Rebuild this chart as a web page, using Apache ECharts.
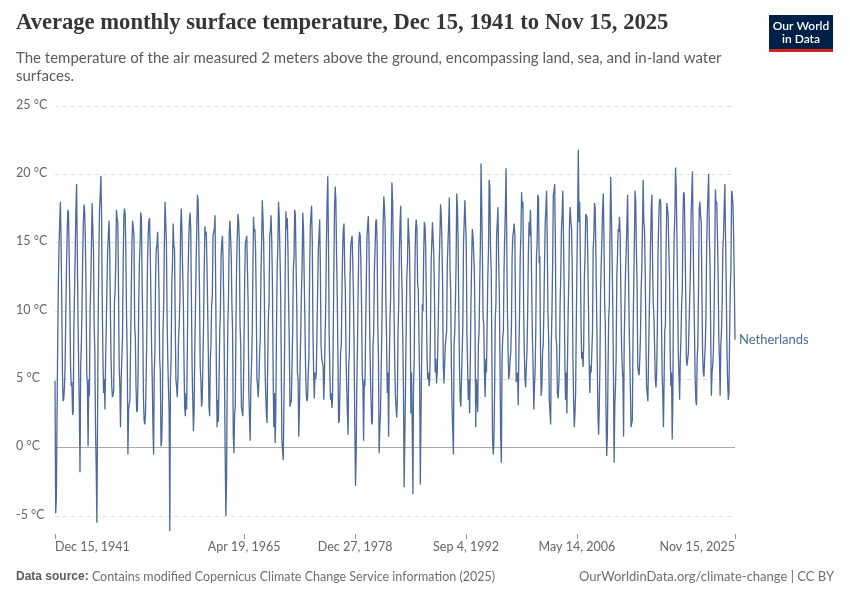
<!DOCTYPE html>
<html>
<head>
<meta charset="utf-8">
<script src="https://cdn.jsdelivr.net/npm/echarts@6/dist/echarts.min.js"></script>
<style>html,body{margin:0;padding:0;background:#fff}#chart{width:850px;height:600px}</style>
</head>
<body>
<div id="chart"></div>
<script>
// ---- Data (°C, monthly, starting Dec 1941) ----
const seriesName = 'Netherlands';
const firstYear = 1941;
const firstMonthIndex = 11; // December

const temps1940s = [4.9,
  -4.8,-3.6,2.0,7.5,12.0,14.8,16.5,18.0,15.0,10.8,5.5,3.4,
  3.6,4.5,6.0,9.8,13.0,15.5,17.4,17.2,14.0,10.5,6.0,4.5,
  4.8,2.4,2.6,8.8,11.5,14.5,17.5,19.3,14.3,9.8,6.0,3.0,
  -1.8,6.0,7.5,10.2,13.8,16.5,17.8,17.2,15.0,11.5,5.5,4.5,
  0.1,5.0,3.8,10.0,12.0,14.8,17.9,16.0,14.5,9.0,7.0,1.5,
  -1.5,-5.5,1.5,9.5,14.0,17.5,18.5,19.9,17.0,10.5,6.5,4.0,
  5.0,2.8,6.5,9.0,12.0,14.5,15.5,16.6,14.5,10.0,6.5,4.5,
  3.7,3.9,4.2,10.5,11.5,13.5,17.4,16.8,16.5,12.0,6.0,4.5];
const temps1950s = [
  1.5,5.0,6.5,8.0,13.5,17.0,17.5,17.0,14.0,9.5,6.5,-0.5,
  2.8,3.2,3.5,7.5,11.5,15.0,16.6,16.5,15.5,9.0,8.0,4.5,
  2.6,2.8,5.0,10.5,13.5,15.0,17.2,16.8,12.0,9.0,3.5,2.0,
  1.7,2.5,5.0,8.5,13.5,15.5,16.6,16.8,14.5,11.0,7.5,5.0,
  1.5,-0.5,5.5,7.0,12.5,14.5,14.8,15.8,14.0,11.5,6.5,5.5,
  0.1,0.5,2.5,8.5,10.5,15.0,18.0,18.0,15.0,9.5,6.5,4.5,
  2.5,-6.1,5.0,6.5,12.0,13.5,16.4,14.8,14.5,9.5,5.0,4.5,
  3.7,5.0,8.0,9.0,11.0,16.0,17.5,15.8,13.0,11.0,6.5,3.0,
  2.3,4.0,2.8,7.0,12.5,15.0,16.5,17.2,16.0,11.0,6.0,3.5,
  1.2,2.8,7.0,10.0,13.5,16.0,18.5,18.0,15.0,11.5,6.0,5.0];
const temps1960s = [
  3.0,3.5,6.0,9.0,13.0,16.2,15.5,15.8,13.5,10.5,7.0,3.0,
  2.3,6.5,7.5,10.5,11.0,15.5,15.5,16.0,17.0,11.5,5.5,1.5,
  3.5,1.9,2.0,8.5,10.0,14.0,15.0,15.5,13.5,10.5,5.0,-0.3,
  -5.0,-2.5,4.5,9.0,11.0,15.5,16.6,15.5,14.0,10.5,8.5,1.0,
  -0.4,2.5,3.0,9.0,13.5,15.5,17.1,16.5,15.0,9.0,7.5,3.0,
  3.0,2.3,4.0,8.0,12.5,15.0,15.2,15.5,13.0,10.5,4.0,4.0,
  0.5,4.5,6.0,8.0,12.5,16.9,15.8,16.0,14.5,11.0,5.0,4.5,
  3.7,5.0,6.8,8.0,12.5,15.0,18.1,16.8,15.0,11.5,6.0,4.0,
  2.5,1.8,6.0,9.5,10.5,15.5,16.0,17.0,15.0,12.0,5.5,1.5,
  4.0,0.35,2.5,8.5,13.0,14.8,18.0,17.0,14.5,12.0,6.5,0.5];
const temps1970s = [
  0.5,-0.9,3.0,7.0,13.0,17.3,16.0,16.8,14.5,10.5,7.5,3.0,
  3.0,3.5,3.5,8.5,13.0,14.0,17.4,17.0,13.5,10.5,5.5,5.0,
  0.8,3.0,6.0,8.5,11.5,13.5,17.2,16.0,12.5,9.5,6.0,4.0,
  3.4,3.6,5.5,6.5,12.5,16.0,17.0,17.7,15.0,8.5,5.5,3.6,
  5.5,5.0,5.5,8.5,11.5,14.5,15.5,16.7,13.0,7.5,6.5,6.5,
  6.0,3.5,5.0,8.0,10.5,15.0,18.0,19.85,15.0,8.5,5.5,3.5,
  4.0,2.9,3.5,8.0,13.0,17.5,19.1,18.0,14.0,11.0,6.5,1.8,
  2.0,4.5,7.0,7.5,11.5,14.5,16.0,16.4,13.0,11.5,6.5,4.5,
  2.5,0.95,6.0,7.0,12.5,14.8,15.2,15.5,13.5,11.0,7.0,1.5,
  -2.8,-0.5,4.5,7.5,11.5,15.0,15.8,15.5,13.5,10.5,5.5,4.5];
const temps1980s = [
  0.5,5.0,4.5,8.5,12.0,15.5,15.5,16.95,15.0,9.0,5.5,3.5,
  1.7,1.9,7.5,8.5,13.0,14.5,16.5,16.7,15.0,9.0,6.5,-0.4,
  1.5,2.5,5.5,8.5,12.5,16.5,18.4,17.5,16.0,11.0,8.0,4.0,
  5.5,0.8,5.5,9.0,11.0,15.5,19.4,18.0,14.5,10.5,6.5,4.0,
  3.0,2.2,3.5,8.5,10.5,14.5,16.5,17.7,13.5,11.5,8.0,4.5,
  -2.9,0.5,4.0,8.5,12.5,13.5,16.8,15.5,14.5,10.5,2.5,5.5,
  1.5,-3.4,4.5,6.5,13.0,16.0,16.7,16.0,12.0,11.5,8.0,5.0,
  -2.7,2.5,2.5,10.5,10.0,14.0,16.5,16.2,14.5,10.5,6.5,5.0,
  5.5,4.5,5.0,8.5,13.5,15.0,16.5,16.5,14.0,11.0,5.5,6.5,
  4.7,5.5,7.5,7.5,13.5,15.5,17.8,17.0,15.0,12.0,6.0,4.7];
const temps1990s = [
  4.7,7.5,8.0,8.5,13.5,15.0,16.5,18.3,13.0,11.5,6.0,3.0,
  3.0,-0.5,7.5,8.5,10.5,13.5,18.6,17.5,15.0,10.0,6.0,3.5,
  3.0,5.0,7.0,9.0,15.0,16.5,18.1,18.0,15.0,8.5,8.5,3.5,
  5.0,2.5,6.0,10.5,13.5,16.0,15.5,15.5,13.0,9.0,1.5,5.0,
  5.0,2.6,7.5,8.5,12.0,15.0,20.8,17.5,14.0,9.5,9.0,5.5,
  3.7,6.5,5.5,9.0,12.5,14.5,19.6,19.0,14.5,13.0,7.0,0.5,
  -0.5,0.5,4.0,9.5,10.5,15.5,16.5,17.6,13.5,11.5,6.0,0.8,
  -1.1,6.5,8.0,8.5,13.0,15.5,17.5,20.45,15.0,10.0,7.0,5.0,
  5.5,6.5,7.0,9.0,14.0,15.5,15.8,16.4,15.5,10.0,4.8,4.8,
  5.5,3.1,7.0,10.0,14.0,15.5,18.7,17.5,18.0,10.5,7.0,5.0];
const temps2000s = [
  4.4,6.0,7.0,10.0,14.0,16.5,15.5,17.4,15.5,11.5,8.0,6.0,
  2.8,4.5,5.5,8.5,14.0,15.0,18.5,18.3,13.5,14.0,7.0,3.8,
  4.5,7.0,7.5,10.0,13.5,16.5,17.5,18.8,15.0,10.0,8.0,3.5,
  3.5,1.7,7.5,10.0,13.5,18.5,18.8,19.3,15.0,8.0,7.5,4.0,
  3.6,4.5,6.0,10.5,12.5,16.0,17.0,18.8,15.5,11.5,6.5,3.5,
  5.5,2.5,6.5,10.0,12.5,16.5,17.6,16.5,16.0,13.0,6.5,3.5,
  1.5,2.5,4.0,9.0,13.5,17.0,21.8,16.5,18.0,14.0,9.0,6.5,
  7.0,5.9,7.5,12.5,14.0,17.1,17.0,16.8,14.0,10.5,6.5,4.0,
  6.0,5.5,5.5,8.5,14.5,15.5,17.9,17.5,14.0,10.5,6.5,2.5,
  0.95,3.0,6.0,11.5,13.5,15.5,17.5,18.6,15.0,10.5,9.0,2.5];
const temps2010s = [
  -0.6,1.0,5.5,9.5,10.5,16.0,19.8,17.0,14.0,10.5,5.5,-1.1,
  3.0,4.5,6.5,12.5,14.0,16.0,15.8,16.9,15.5,11.5,7.5,6.0,
  5.0,0.8,8.0,8.0,13.0,14.5,16.5,18.5,14.0,10.0,7.0,4.5,
  1.5,1.8,2.0,8.0,11.5,15.0,18.8,18.0,14.5,12.0,6.0,5.5,
  5.3,6.5,8.0,11.5,13.0,16.0,19.6,16.5,16.0,13.0,8.5,4.5,
  4.5,3.4,6.5,9.5,12.0,15.0,17.5,18.5,13.5,10.5,9.5,9.5,
  5.0,4.4,5.5,8.5,14.0,16.5,18.0,18.2,18.0,10.0,5.5,4.0,
  1.5,5.0,8.5,9.0,14.5,17.9,17.5,17.0,14.5,12.5,7.0,4.5,
  5.5,0.6,3.5,12.0,15.5,17.0,20.5,19.0,15.5,11.5,7.0,5.5,
  3.5,6.5,8.0,10.5,11.5,17.0,18.7,18.5,15.0,11.5,6.5,6.0];
const temps2020s = [
  5.9,7.0,7.0,11.0,13.0,17.0,17.0,20.2,15.5,11.5,8.5,5.0,
  3.5,3.1,6.5,7.5,11.5,17.5,18.0,17.0,16.5,11.5,7.0,5.5,
  5.2,6.5,7.5,9.5,14.5,17.0,18.5,20.05,15.5,13.5,8.5,3.8,
  5.5,6.0,7.0,9.5,13.5,18.9,17.8,18.0,18.0,13.0,8.0,6.5,
  3.8,7.5,8.5,10.5,14.5,15.5,17.5,19.3,15.5,12.0,7.5,5.0,
  3.5,4.0,8.0,11.5,13.0,18.8,18.5,17.8,15.5,12.0,7.9];

const yTickValues = [-5, 0, 5, 10, 15, 20, 25];
const xTickDates = ['1941-12-15', '1965-04-19', '1978-12-27', '1992-09-04', '2006-05-14', '2025-11-15'];
const monthNames = ['Jan','Feb','Mar','Apr','May','Jun','Jul','Aug','Sep','Oct','Nov','Dec'];

// ---- Build series ----
const allTemps = [].concat(temps1940s, temps1950s, temps1960s, temps1970s, temps1980s, temps1990s, temps2000s, temps2010s, temps2020s);
const seriesData = allTemps.map((t, i) => [Date.UTC(firstYear, firstMonthIndex + i, 15), t]);
const xTickValues = xTickDates.map(s => Date.parse(s));
const xMin = xTickValues[0];
const xMax = xTickValues[xTickValues.length - 1];

function fmtDate(v) {
  const d = new Date(v);
  return monthNames[d.getUTCMonth()] + ' ' + d.getUTCDate() + ', ' + d.getUTCFullYear();
}

const FONT = 'Lato, "Noto Sans", sans-serif';
const chart = echarts.init(document.getElementById('chart'), null, { renderer: 'canvas' });
chart.setOption({
  animation: false,
  backgroundColor: '#ffffff',
  grid: { left: 55, right: 115, top: 106, bottom: 84, containLabel: false },
  xAxis: {
    type: 'value',
    min: xMin,
    max: xMax,
    offset: 18,
    axisLine: { show: false, onZero: false },
    axisTick: { show: true, customValues: xTickValues, length: 5, lineStyle: { color: '#9a9a9a' } },
    axisLabel: {
      customValues: xTickValues,
      formatter: fmtDate,
      color: '#666666',
      fontSize: 12.5,
      fontFamily: FONT,
      margin: 6,
      alignMinLabel: 'left',
      alignMaxLabel: 'right'
    },
    splitLine: { show: false }
  },
  yAxis: {
    type: 'value',
    min: yTickValues[0],
    max: yTickValues[yTickValues.length - 1],
    interval: 5,
    axisLine: { show: false },
    axisTick: { show: false },
    axisLabel: {
      formatter: '{value} °C',
      color: '#666666',
      fontSize: 12.5,
      fontFamily: FONT,
      align: 'left',
      margin: 39,
      verticalAlign: 'bottom',
      padding: [0, 0, -5, 0]
    },
    splitLine: { show: true, lineStyle: { color: '#dddddd', type: [4, 4], width: 1 } }
  },
  series: [
    {
      type: 'line',
      name: 'zero',
      data: [],
      silent: true,
      markLine: {
        silent: true,
        symbol: 'none',
        z: 1,
        label: { show: false },
        lineStyle: { color: '#a8a8a8', type: 'solid', width: 1 },
        data: [{ yAxis: 0 }]
      }
    },
    {
      type: 'line',
      name: seriesName,
      data: seriesData,
      showSymbol: false,
      clip: false,
      z: 3,
      lineStyle: { color: '#4c6a9c', width: 1.3 },
      itemStyle: { color: '#4c6a9c' },
      endLabel: {
        show: true,
        formatter: '{a}',
        color: '#4c6a9c',
        fontSize: 13,
        fontFamily: FONT,
        distance: 4
      }
    }
  ],
  graphic: [
    {
      type: 'text', left: 16, top: 12,
      style: { text: 'Average monthly surface temperature, Dec 15, 1941 to Nov 15, 2025', fill: '#363636', font: 'bold 22.6px "Liberation Serif", serif' }
    },
    {
      type: 'text', left: 16, top: 49,
      style: { text: 'The temperature of the air measured 2 meters above the ground, encompassing land, sea, and in-land water\nsurfaces.', fill: '#5b5b5b', font: '15px Lato, sans-serif', lineHeight: 18 }
    },
    { type: 'rect', shape: { x: 769, y: 15, width: 64, height: 37 }, style: { fill: '#002147' } },
    { type: 'rect', shape: { x: 769, y: 49, width: 64, height: 3 }, style: { fill: '#ce261e' } },
    {
      type: 'text', x: 801, y: 20,
      style: { text: 'Our World\nin Data', fill: '#ffffff', font: '600 12px Lato, sans-serif', align: 'center', verticalAlign: 'top', lineHeight: 13 }
    },
    {
      type: 'text', left: 16, top: 570,
      style: {
        text: '{b|Data source:} Contains modified Copernicus Climate Change Service information (2025)',
        rich: { b: { fontWeight: 'bold', fill: '#5b5b5b', font: 'bold 12.5px Lato, sans-serif' } },
        fill: '#6e6e6e', font: '12.5px Lato, sans-serif'
      }
    },
    {
      type: 'text', right: 16, top: 570,
      style: { text: 'OurWorldinData.org/climate-change | CC BY', fill: '#6e6e6e', font: '13px Lato, sans-serif' }
    }
  ]
});
</script>
</body>
</html>
